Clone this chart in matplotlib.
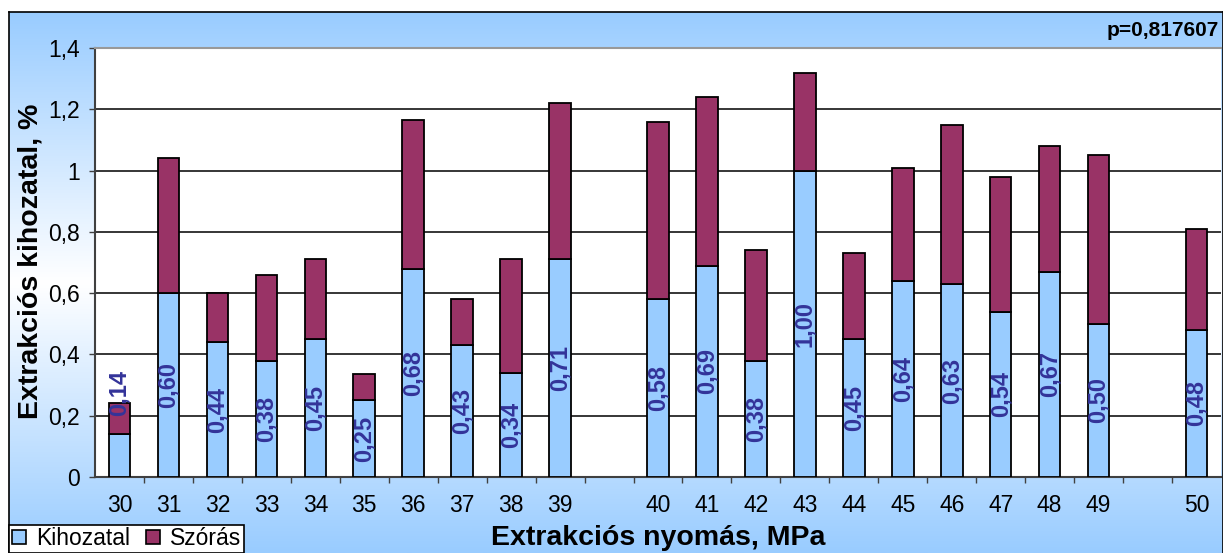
import numpy as np
import matplotlib.pyplot as plt
from matplotlib.patches import Patch
from matplotlib.colors import LinearSegmentedColormap

plt.rcParams['font.family'] = ['Liberation Sans', 'DejaVu Sans']

# nyomás kategóriák (üres helyek a csoportok között)
kategoriak = ['30', '31', '32', '33', '34', '35', '36', '37', '38', '39', '',
              '40', '41', '42', '43', '44', '45', '46', '47', '48', '49', '', '50']
kihozatal = [0.14, 0.60, 0.44, 0.38, 0.45, 0.25, 0.68, 0.43, 0.34, 0.71, np.nan,
             0.58, 0.69, 0.38, 1.00, 0.45, 0.64, 0.63, 0.54, 0.67, 0.50, np.nan, 0.48]
szoras = [0.10, 0.44, 0.16, 0.28, 0.26, 0.085, 0.485, 0.15, 0.37, 0.51, np.nan,
          0.58, 0.55, 0.36, 0.32, 0.28, 0.37, 0.52, 0.44, 0.41, 0.55, np.nan, 0.33]
p_ertek = '0,817607'

W, H = 1223, 553
fig = plt.figure(figsize=(W / 100, H / 100), dpi=100)

# háttér: kék - fehér - kék színátmenet, kerettel
bg = fig.add_axes([9 / W, 0, 1 - 9 / W, 1 - 12 / H])
cmap = LinearSegmentedColormap.from_list('hatter', ['#99CCFF', '#FFFFFF', '#99CCFF'])
grad = np.linspace(0, 1, 256).reshape(-1, 1)
bg.imshow(grad, aspect='auto', cmap=cmap, extent=[0, 1, 0, 1])
bg.set_xticks([])
bg.set_yticks([])
for s in bg.spines.values():
    s.set_color('black')
    s.set_linewidth(1.2)
bg.spines['bottom'].set_visible(False)

ax = fig.add_axes([95 / W, 1 - 477 / H, (1221 - 95) / W, (477 - 48) / H])
ax.set_facecolor('white')

x = np.arange(len(kategoriak))
k = np.array(kihozatal)
s = np.array(szoras)
ax.bar(x, k, width=0.44, color='#99CCFF', edgecolor='black', linewidth=1.3, zorder=3)
ax.bar(x, s, width=0.44, bottom=k, color='#993366', edgecolor='black', linewidth=1.3, zorder=3)

# értékcímkék a kihozatal oszlopokon
for xi, v in zip(x, k):
    if np.isnan(v):
        continue
    y_lbl = v / 2 if v >= 0.2 else v + 0.135
    ax.text(xi, y_lbl, f'{v:.2f}'.replace('.', ','), rotation=90, ha='center', va='center',
            color='#333399', fontsize=17, fontweight='bold', zorder=4)

ax.set_xlim(-0.5, len(kategoriak) - 0.5)
ax.set_ylim(0, 1.4)
ax.set_yticks(np.arange(0, 1.41, 0.2))
ax.set_yticklabels(['0', '0,2', '0,4', '0,6', '0,8', '1', '1,2', '1,4'])
ax.yaxis.grid(True, color='black', linewidth=1.1, zorder=0)
ax.set_axisbelow(True)

ax.set_xticks(x)
ax.set_xticklabels(kategoriak)
ax.set_xticks(np.arange(0.5, len(kategoriak) - 0.5, 1), minor=True)
ax.tick_params(axis='x', which='major', length=0, pad=12, labelsize=16.5)
ax.tick_params(axis='x', which='minor', length=4, width=1, color='#404040', direction='out')
ax.tick_params(axis='y', length=4, width=1, color='#404040', pad=7, labelsize=16.5)

ax.spines['right'].set_visible(False)
ax.spines['top'].set_color('#999999')
ax.spines['top'].set_linewidth(1.5)
ax.spines['left'].set_color('#404040')
ax.spines['left'].set_linewidth(1.5)
ax.spines['bottom'].set_color('#404040')
ax.spines['bottom'].set_linewidth(1.5)

fig.text(658 / W, 1 - 538 / H, 'Extrakciós nyomás, MPa', ha='center', va='center',
         fontsize=20.5, fontweight='bold')
fig.text(31 / W, 1 - 261 / H, 'Extrakciós kihozatal, %', ha='center', va='center',
         rotation=90, fontsize=20.5, fontweight='bold')
fig.text(1219 / W, 1 - 31 / H, 'p=' + p_ertek, ha='right', va='center',
         fontsize=15, fontweight='bold')

handles = [Patch(facecolor='#99CCFF', edgecolor='black', linewidth=1.2),
           Patch(facecolor='#993366', edgecolor='black', linewidth=1.2)]
leg = fig.legend(handles, ['Kihozatal', 'Szórás'], loc='lower left',
                 bbox_to_anchor=(9 / W, 0.0), ncol=2, fontsize=16.5, frameon=True,
                 fancybox=False, edgecolor='black', framealpha=1, borderaxespad=0,
                 handlelength=0.6, handleheight=0.6, handletextpad=0.45,
                 columnspacing=0.7, borderpad=0.12)
leg.get_frame().set_linewidth(1.2)

fig.savefig('out.png', dpi=100)
